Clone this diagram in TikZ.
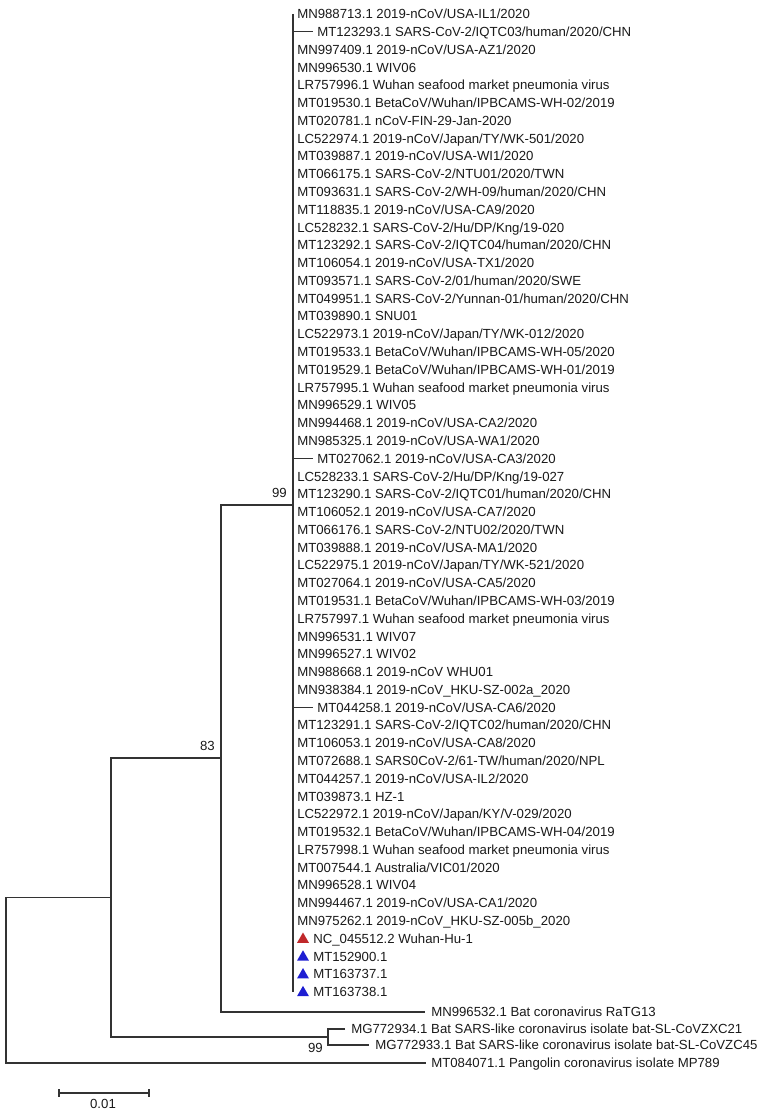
\documentclass[tikz,border=0pt]{standalone}
\usepackage{fontspec}
\setmainfont{Liberation Sans}
\usetikzlibrary{shapes.geometric}
\definecolor{branch}{HTML}{333333}
\definecolor{txt}{HTML}{1A1A1A}
\definecolor{tred}{HTML}{C0282A}
\definecolor{tblue}{HTML}{1E1ED2}
\tikzset{
  br/.style={draw=branch, line width=0.9pt},
  lab/.style={anchor=west, inner sep=0pt, text height=7.1pt, text depth=0pt, text=txt,
              font=\fontsize{9.9pt}{11pt}\selectfont},
  boot/.style={lab, anchor=east},
  trimark/.style={regular polygon, regular polygon sides=3, minimum size=10.4pt,
                  inner sep=0pt, anchor=south},
}
\newcommand\myrowy[1]{{14+(#1-1)*17.78}}
\newcommand\mytipn[2]{\node[lab] (l#1) at (297,\myrowy{#1}) {#2};}
\newcommand\mytipo[2]{%
  \coordinate (s#1) at (293,\myrowy{#1});
  \coordinate (e#1) at (313,\myrowy{#1});
  \draw[br] (s#1) -- (e#1);
  \node[lab] (l#1) at (317,\myrowy{#1}) {#2};}
\newcommand\mytipt[3]{%
  \node[trimark, fill=#2] (m#1) at (303,{14+(#1-1)*17.78+4.6}) {};
  \node[lab] (l#1) at (313,\myrowy{#1}) {#3};}
\begin{document}
\begin{tikzpicture}[x=0.75pt, y=-0.75pt]
\useasboundingbox (0,0) rectangle (780,1112);

% ---- big clade ----
\coordinate (bctop) at (293,14);
\coordinate (bcbot) at (293,991.9);
\draw[br] (bctop) -- (bcbot);
\mytipn{1}{MN988713.1 2019-nCoV/USA-IL1/2020}
\mytipo{2}{MT123293.1 SARS-CoV-2/IQTC03/human/2020/CHN}
\mytipn{3}{MN997409.1 2019-nCoV/USA-AZ1/2020}
\mytipn{4}{MN996530.1 WIV06}
\mytipn{5}{LR757996.1 Wuhan seafood market pneumonia virus}
\mytipn{6}{MT019530.1 BetaCoV/Wuhan/IPBCAMS-WH-02/2019}
\mytipn{7}{MT020781.1 nCoV-FIN-29-Jan-2020}
\mytipn{8}{LC522974.1 2019-nCoV/Japan/TY/WK-501/2020}
\mytipn{9}{MT039887.1 2019-nCoV/USA-WI1/2020}
\mytipn{10}{MT066175.1 SARS-CoV-2/NTU01/2020/TWN}
\mytipn{11}{MT093631.1 SARS-CoV-2/WH-09/human/2020/CHN}
\mytipn{12}{MT118835.1 2019-nCoV/USA-CA9/2020}
\mytipn{13}{LC528232.1 SARS-CoV-2/Hu/DP/Kng/19-020}
\mytipn{14}{MT123292.1 SARS-CoV-2/IQTC04/human/2020/CHN}
\mytipn{15}{MT106054.1 2019-nCoV/USA-TX1/2020}
\mytipn{16}{MT093571.1 SARS-CoV-2/01/human/2020/SWE}
\mytipn{17}{MT049951.1 SARS-CoV-2/Yunnan-01/human/2020/CHN}
\mytipn{18}{MT039890.1 SNU01}
\mytipn{19}{LC522973.1 2019-nCoV/Japan/TY/WK-012/2020}
\mytipn{20}{MT019533.1 BetaCoV/Wuhan/IPBCAMS-WH-05/2020}
\mytipn{21}{MT019529.1 BetaCoV/Wuhan/IPBCAMS-WH-01/2019}
\mytipn{22}{LR757995.1 Wuhan seafood market pneumonia virus}
\mytipn{23}{MN996529.1 WIV05}
\mytipn{24}{MN994468.1 2019-nCoV/USA-CA2/2020}
\mytipn{25}{MN985325.1 2019-nCoV/USA-WA1/2020}
\mytipo{26}{MT027062.1 2019-nCoV/USA-CA3/2020}
\mytipn{27}{LC528233.1 SARS-CoV-2/Hu/DP/Kng/19-027}
\mytipn{28}{MT123290.1 SARS-CoV-2/IQTC01/human/2020/CHN}
\mytipn{29}{MT106052.1 2019-nCoV/USA-CA7/2020}
\mytipn{30}{MT066176.1 SARS-CoV-2/NTU02/2020/TWN}
\mytipn{31}{MT039888.1 2019-nCoV/USA-MA1/2020}
\mytipn{32}{LC522975.1 2019-nCoV/Japan/TY/WK-521/2020}
\mytipn{33}{MT027064.1 2019-nCoV/USA-CA5/2020}
\mytipn{34}{MT019531.1 BetaCoV/Wuhan/IPBCAMS-WH-03/2019}
\mytipn{35}{LR757997.1 Wuhan seafood market pneumonia virus}
\mytipn{36}{MN996531.1 WIV07}
\mytipn{37}{MN996527.1 WIV02}
\mytipn{38}{MN988668.1 2019-nCoV WHU01}
\mytipn{39}{MN938384.1 2019-nCoV\_HKU-SZ-002a\_2020}
\mytipo{40}{MT044258.1 2019-nCoV/USA-CA6/2020}
\mytipn{41}{MT123291.1 SARS-CoV-2/IQTC02/human/2020/CHN}
\mytipn{42}{MT106053.1 2019-nCoV/USA-CA8/2020}
\mytipn{43}{MT072688.1 SARS0CoV-2/61-TW/human/2020/NPL}
\mytipn{44}{MT044257.1 2019-nCoV/USA-IL2/2020}
\mytipn{45}{MT039873.1 HZ-1}
\mytipn{46}{LC522972.1 2019-nCoV/Japan/KY/V-029/2020}
\mytipn{47}{MT019532.1 BetaCoV/Wuhan/IPBCAMS-WH-04/2019}
\mytipn{48}{LR757998.1 Wuhan seafood market pneumonia virus}
\mytipn{49}{MT007544.1 Australia/VIC01/2020}
\mytipn{50}{MN996528.1 WIV04}
\mytipn{51}{MN994467.1 2019-nCoV/USA-CA1/2020}
\mytipn{52}{MN975262.1 2019-nCoV\_HKU-SZ-005b\_2020}
\mytipt{53}{tred}{NC\_045512.2 Wuhan-Hu-1}
\mytipt{54}{tblue}{MT152900.1}
\mytipt{55}{tblue}{MT163737.1}
\mytipt{56}{tblue}{MT163738.1}

% ---- internal nodes ----
\coordinate (nbc) at (293,505);
\coordinate (n83) at (221,758);
\coordinate (nA) at (111,897.5);
\coordinate (nbat) at (328,1037);
\coordinate (root) at (6,980);

% ---- other tips ----
\coordinate (ratg) at (425,1012);
\node[lab] (lratg) at (431,1012) {MN996532.1 Bat coronavirus RaTG13};
\coordinate (mg34) at (345,1029);
\node[lab] (lmg34) at (351,1029) {MG772934.1 Bat SARS-like coronavirus isolate bat-SL-CoVZXC21};
\coordinate (mg33) at (369,1045);
\node[lab] (lmg33) at (375,1045) {MG772933.1 Bat SARS-like coronavirus isolate bat-SL-CoVZC45};
\coordinate (pang) at (426,1063);
\node[lab] (lpang) at (431,1063) {MT084071.1 Pangolin coronavirus isolate MP789};

% ---- branches ----
\draw[br] (nbc) -| (n83) |- (ratg);
\draw[br] (n83) -| (nA) |- (nbat);
\draw[br] (mg34) -| (nbat) |- (mg33);
\draw[br] (nA) -| (root) |- (pang);

% ---- bootstrap values ----
\node[boot] (b99a) at (287,493) {99};
\node[boot] (b83) at (215,746) {83};
\node[boot] (b99b) at (323,1048) {99};

% ---- scale bar ----
\coordinate (sbl) at (59,1093);
\coordinate (sbr) at (149,1093);
\coordinate (sblt) at (59,1089);
\coordinate (sblb) at (59,1097);
\coordinate (sbrt) at (149,1089);
\coordinate (sbrb) at (149,1097);
\draw[br] (sbl) -- (sbr);
\draw[br] (sblt) -- (sblb);
\draw[br] (sbrt) -- (sbrb);
\node[lab, anchor=center] (sblab) at (103,1104) {0.01};
\end{tikzpicture}
\end{document}
